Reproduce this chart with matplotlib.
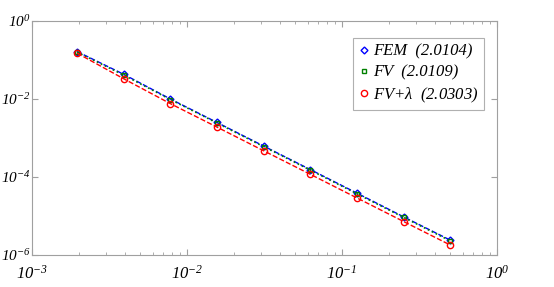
import numpy as np
import matplotlib
matplotlib.use('Agg')
import matplotlib.pyplot as plt
from matplotlib.ticker import LogLocator, NullFormatter, FixedLocator

plt.rcParams['font.family'] = 'Liberation Serif'
plt.rcParams['font.style'] = 'italic'
plt.rcParams['mathtext.fontset'] = 'custom'
plt.rcParams['mathtext.rm'] = 'Liberation Serif:italic'
plt.rcParams['mathtext.it'] = 'Liberation Serif:italic'

# mesh sizes and errors
h = [2**-9, 2**-8, 2**-7, 2**-6, 2**-5, 2**-4, 2**-3, 2**-2, 2**-1]
err_fem = [1.65e-1, 4.3e-2, 1.0e-2, 2.5e-3, 6.2e-4, 1.55e-4, 3.85e-5, 9.5e-6, 2.4e-6]
err_fv = [1.6e-1, 4.1e-2, 9.7e-3, 2.42e-3, 6.0e-4, 1.5e-4, 3.7e-5, 9.2e-6, 2.3e-6]
err_fvl = [1.5e-1, 3.3e-2, 7.6e-3, 1.9e-3, 4.7e-4, 1.17e-4, 2.9e-5, 7.2e-6, 1.8e-6]
labels = ['FEM  (2.0104)', 'FV  (2.0109)', r'FV+$\lambda$  (2.0303)']

fig = plt.figure(figsize=(5.54, 2.87), dpi=100)
ax = fig.add_axes([32/554, 32/287, 465/554, 234/287])

ax.loglog(h, err_fem, '--', color='blue', marker='D', ms=3.5, mfc='none', mew=1, lw=1, label=labels[0])
ax.loglog(h, err_fv, ':', color='green', marker='s', ms=3.5, mfc='none', mew=1, lw=1.2, label=labels[1])
ax.loglog(h, err_fvl, '--', color='red', marker='o', ms=4.5, mfc='none', mew=1, lw=1, label=labels[2])

ax.set_xlim(1e-3, 1)
ax.set_ylim(1e-6, 1)
ax.xaxis.set_major_locator(LogLocator(base=10, numticks=10))
ax.xaxis.set_minor_locator(LogLocator(base=10, subs=np.arange(2, 10), numticks=20))
ax.xaxis.set_minor_formatter(NullFormatter())
ax.yaxis.set_major_locator(FixedLocator([1e-6, 1e-4, 1e-2, 1]))
ax.yaxis.set_minor_locator(FixedLocator([]))
ax.tick_params(which='both', direction='in', top=True, right=True, color='#a0a0a0', labelsize=12)
ax.tick_params(axis='x', pad=7)
ax.tick_params(axis='y', pad=1, labelsize=11)
ax.tick_params(which='major', length=4)
ax.tick_params(which='minor', length=2.5)
for s in ax.spines.values():
    s.set_color('#a0a0a0')

leg = ax.legend(loc='upper right', bbox_to_anchor=(0.99, 0.965), fontsize=12, handlelength=0.7,
                handletextpad=0.15, borderpad=0.35, fancybox=False, framealpha=1, labelspacing=0.3)
leg.get_frame().set_edgecolor('#b0b0b0')
leg.get_frame().set_linewidth(0.8)
for line in leg.get_lines():
    line.set_linestyle('none')

fig.savefig('out.png', dpi=100)
